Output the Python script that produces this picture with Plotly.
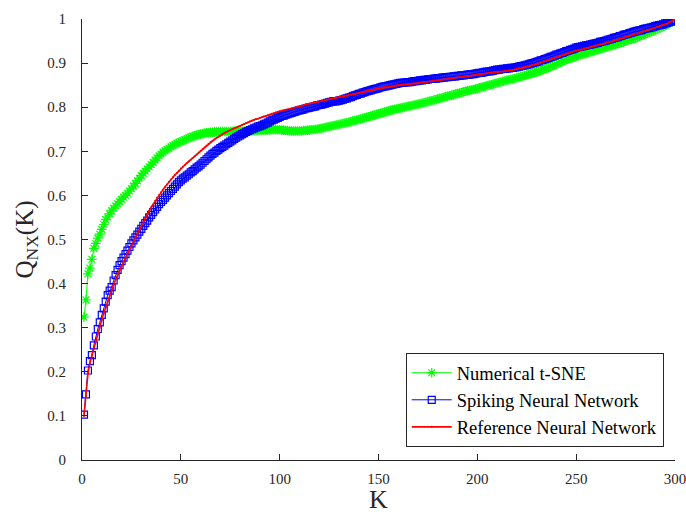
import plotly.graph_objects as go

K = list(range(1, 301))

tsne = [
    0.324, 0.363, 0.422, 0.435, 0.455, 0.480, 0.491, 0.503, 0.512, 0.523,
    0.534, 0.545, 0.551, 0.558, 0.565, 0.571, 0.576, 0.581, 0.586, 0.591,
    0.596, 0.600, 0.605, 0.610, 0.615, 0.621, 0.627, 0.633, 0.639, 0.645,
    0.650, 0.655, 0.660, 0.665, 0.670, 0.675, 0.680, 0.685, 0.690, 0.694,
    0.698, 0.701, 0.704, 0.707, 0.710, 0.713, 0.716, 0.718, 0.720, 0.722,
    0.724, 0.726, 0.728, 0.730, 0.732, 0.734, 0.735, 0.737, 0.738, 0.739,
    0.740, 0.741, 0.742, 0.742, 0.743, 0.743, 0.744, 0.744, 0.745, 0.745,
    0.745, 0.745, 0.745, 0.745, 0.745, 0.745, 0.746, 0.746, 0.746, 0.746,
    0.746, 0.746, 0.746, 0.746, 0.746, 0.746, 0.746, 0.747, 0.747, 0.747,
    0.747, 0.747, 0.748, 0.748, 0.748, 0.749, 0.749, 0.749, 0.749, 0.749,
    0.748, 0.748, 0.747, 0.747, 0.746, 0.746, 0.746, 0.746, 0.746, 0.746,
    0.746, 0.747, 0.747, 0.748, 0.748, 0.749, 0.749, 0.750, 0.750, 0.751,
    0.752, 0.753, 0.754, 0.755, 0.756, 0.757, 0.758, 0.759, 0.760, 0.761,
    0.762, 0.763, 0.764, 0.765, 0.766, 0.767, 0.769, 0.770, 0.771, 0.772,
    0.773, 0.775, 0.776, 0.777, 0.778, 0.780, 0.781, 0.782, 0.784, 0.785,
    0.786, 0.787, 0.789, 0.790, 0.791, 0.793, 0.794, 0.795, 0.796, 0.797,
    0.798, 0.799, 0.800, 0.801, 0.802, 0.803, 0.804, 0.805, 0.806, 0.807,
    0.808, 0.809, 0.810, 0.811, 0.813, 0.814, 0.815, 0.816, 0.817, 0.819,
    0.820, 0.821, 0.822, 0.824, 0.825, 0.826, 0.827, 0.828, 0.830, 0.831,
    0.832, 0.833, 0.835, 0.836, 0.837, 0.838, 0.839, 0.840, 0.841, 0.842,
    0.844, 0.845, 0.846, 0.847, 0.849, 0.850, 0.851, 0.852, 0.854, 0.855,
    0.856, 0.857, 0.859, 0.860, 0.861, 0.862, 0.863, 0.864, 0.865, 0.867,
    0.868, 0.869, 0.870, 0.872, 0.873, 0.874, 0.876, 0.877, 0.878, 0.880,
    0.881, 0.883, 0.885, 0.886, 0.888, 0.890, 0.892, 0.894, 0.896, 0.898,
    0.900, 0.902, 0.904, 0.906, 0.908, 0.909, 0.911, 0.912, 0.914, 0.915,
    0.917, 0.918, 0.920, 0.921, 0.922, 0.924, 0.925, 0.926, 0.928, 0.929,
    0.930, 0.932, 0.933, 0.934, 0.936, 0.937, 0.938, 0.939, 0.941, 0.942,
    0.944, 0.945, 0.947, 0.948, 0.950, 0.951, 0.953, 0.954, 0.955, 0.957,
    0.959, 0.961, 0.963, 0.964, 0.966, 0.968, 0.970, 0.971, 0.973, 0.975,
    0.977, 0.979, 0.981, 0.983, 0.985, 0.987, 0.990, 0.993, 0.996, 0.998,
]

snn = [
    0.103, 0.149, 0.203, 0.224, 0.238, 0.260, 0.280, 0.297, 0.312, 0.329,
    0.344, 0.359, 0.374, 0.384, 0.392, 0.407, 0.419, 0.431, 0.442, 0.451,
    0.459, 0.467, 0.475, 0.483, 0.491, 0.498, 0.505, 0.511, 0.518, 0.524,
    0.531, 0.537, 0.543, 0.550, 0.556, 0.562, 0.568, 0.574, 0.580, 0.585,
    0.590, 0.595, 0.600, 0.605, 0.610, 0.615, 0.620, 0.625, 0.630, 0.634,
    0.638, 0.641, 0.645, 0.648, 0.652, 0.655, 0.659, 0.663, 0.666, 0.670,
    0.674, 0.678, 0.682, 0.686, 0.690, 0.694, 0.697, 0.701, 0.704, 0.707,
    0.710, 0.713, 0.716, 0.719, 0.722, 0.725, 0.728, 0.731, 0.734, 0.736,
    0.739, 0.741, 0.744, 0.746, 0.748, 0.750, 0.752, 0.754, 0.756, 0.757,
    0.759, 0.761, 0.763, 0.765, 0.768, 0.770, 0.772, 0.774, 0.776, 0.778,
    0.780, 0.781, 0.783, 0.784, 0.786, 0.787, 0.789, 0.790, 0.792, 0.793,
    0.794, 0.795, 0.797, 0.798, 0.799, 0.800, 0.801, 0.802, 0.804, 0.805,
    0.806, 0.807, 0.808, 0.810, 0.811, 0.812, 0.813, 0.813, 0.814, 0.815,
    0.816, 0.817, 0.819, 0.820, 0.822, 0.823, 0.825, 0.827, 0.828, 0.830,
    0.831, 0.833, 0.834, 0.836, 0.837, 0.838, 0.840, 0.841, 0.842, 0.843,
    0.845, 0.846, 0.847, 0.848, 0.849, 0.850, 0.851, 0.852, 0.853, 0.854,
    0.855, 0.855, 0.856, 0.856, 0.857, 0.857, 0.858, 0.859, 0.859, 0.860,
    0.861, 0.861, 0.862, 0.862, 0.863, 0.864, 0.864, 0.865, 0.865, 0.866,
    0.866, 0.867, 0.867, 0.868, 0.868, 0.869, 0.869, 0.870, 0.870, 0.871,
    0.871, 0.872, 0.872, 0.873, 0.874, 0.874, 0.875, 0.875, 0.876, 0.877,
    0.878, 0.878, 0.879, 0.880, 0.881, 0.881, 0.882, 0.883, 0.884, 0.885,
    0.885, 0.886, 0.887, 0.887, 0.888, 0.888, 0.889, 0.889, 0.890, 0.891,
    0.892, 0.893, 0.894, 0.895, 0.896, 0.897, 0.899, 0.900, 0.901, 0.903,
    0.904, 0.906, 0.907, 0.909, 0.910, 0.912, 0.914, 0.915, 0.917, 0.919,
    0.920, 0.922, 0.923, 0.925, 0.927, 0.928, 0.930, 0.931, 0.933, 0.935,
    0.936, 0.937, 0.938, 0.939, 0.940, 0.941, 0.942, 0.943, 0.944, 0.945,
    0.946, 0.948, 0.949, 0.950, 0.951, 0.953, 0.954, 0.955, 0.957, 0.958,
    0.959, 0.961, 0.962, 0.964, 0.965, 0.966, 0.968, 0.969, 0.971, 0.972,
    0.973, 0.974, 0.975, 0.977, 0.978, 0.979, 0.980, 0.981, 0.982, 0.984,
    0.985, 0.986, 0.987, 0.988, 0.990, 0.991, 0.993, 0.994, 0.996, 0.998,
]

rnn = [
    0.100, 0.145, 0.195, 0.220, 0.237, 0.255, 0.272, 0.288, 0.303, 0.318,
    0.333, 0.347, 0.360, 0.373, 0.386, 0.398, 0.409, 0.420, 0.430, 0.440,
    0.449, 0.459, 0.468, 0.477, 0.486, 0.496, 0.505, 0.514, 0.522, 0.531,
    0.540, 0.548, 0.557, 0.565, 0.573, 0.580, 0.588, 0.595, 0.601, 0.607,
    0.613, 0.619, 0.625, 0.631, 0.636, 0.641, 0.646, 0.651, 0.656, 0.661,
    0.665, 0.669, 0.673, 0.677, 0.681, 0.685, 0.689, 0.693, 0.697, 0.701,
    0.705, 0.709, 0.713, 0.717, 0.721, 0.724, 0.727, 0.730, 0.733, 0.736,
    0.739, 0.742, 0.744, 0.746, 0.748, 0.750, 0.752, 0.754, 0.756, 0.758,
    0.760, 0.762, 0.764, 0.766, 0.768, 0.770, 0.771, 0.773, 0.774, 0.776,
    0.777, 0.779, 0.780, 0.782, 0.783, 0.785, 0.786, 0.788, 0.789, 0.791,
    0.792, 0.793, 0.794, 0.795, 0.796, 0.797, 0.798, 0.800, 0.801, 0.802,
    0.803, 0.804, 0.806, 0.807, 0.808, 0.809, 0.810, 0.811, 0.812, 0.813,
    0.814, 0.815, 0.816, 0.817, 0.818, 0.819, 0.820, 0.821, 0.822, 0.823,
    0.824, 0.825, 0.826, 0.826, 0.827, 0.828, 0.829, 0.830, 0.831, 0.832,
    0.833, 0.834, 0.835, 0.836, 0.837, 0.838, 0.839, 0.840, 0.841, 0.842,
    0.843, 0.844, 0.845, 0.845, 0.846, 0.847, 0.847, 0.848, 0.849, 0.850,
    0.850, 0.851, 0.851, 0.852, 0.852, 0.853, 0.853, 0.854, 0.854, 0.855,
    0.856, 0.856, 0.857, 0.857, 0.858, 0.858, 0.859, 0.860, 0.860, 0.861,
    0.861, 0.862, 0.863, 0.863, 0.864, 0.865, 0.865, 0.866, 0.867, 0.868,
    0.868, 0.869, 0.869, 0.870, 0.871, 0.871, 0.872, 0.872, 0.873, 0.874,
    0.874, 0.875, 0.876, 0.876, 0.877, 0.878, 0.878, 0.879, 0.879, 0.880,
    0.880, 0.881, 0.881, 0.882, 0.882, 0.883, 0.883, 0.884, 0.885, 0.886,
    0.887, 0.888, 0.889, 0.890, 0.891, 0.892, 0.894, 0.895, 0.896, 0.898,
    0.899, 0.901, 0.902, 0.904, 0.905, 0.907, 0.908, 0.910, 0.911, 0.913,
    0.915, 0.916, 0.918, 0.919, 0.921, 0.922, 0.924, 0.925, 0.927, 0.928,
    0.929, 0.930, 0.931, 0.933, 0.934, 0.935, 0.936, 0.937, 0.938, 0.940,
    0.941, 0.942, 0.943, 0.944, 0.946, 0.947, 0.948, 0.949, 0.951, 0.952,
    0.953, 0.955, 0.956, 0.957, 0.959, 0.960, 0.961, 0.963, 0.964, 0.966,
    0.967, 0.969, 0.970, 0.972, 0.973, 0.975, 0.976, 0.977, 0.979, 0.980,
    0.982, 0.983, 0.985, 0.986, 0.988, 0.990, 0.992, 0.994, 0.996, 0.999,
]

x_ticks = [0, 50, 100, 150, 200, 250, 300]
y_ticks = [0, 0.1, 0.2, 0.3, 0.4, 0.5, 0.6, 0.7, 0.8, 0.9, 1]
y_tick_labels = ["0", "0.1", "0.2", "0.3", "0.4", "0.5", "0.6", "0.7", "0.8", "0.9", "1"]

FONT = "Liberation Serif, Times New Roman, serif"
AX = "#262626"

fig = go.Figure()
fig.add_trace(go.Scatter(
    x=K, y=tsne, mode="lines+markers", name="Numerical t-SNE",
    line=dict(color="#00ff00", width=1),
    marker=dict(symbol="asterisk-open", size=8, color="#00ff00",
                line=dict(color="#00ff00", width=1.2)),
))
fig.add_trace(go.Scatter(
    x=K, y=snn, mode="lines+markers", name="Spiking Neural Network",
    line=dict(color="#0000ff", width=1),
    marker=dict(symbol="square-open", size=7, color="#0000ff",
                line=dict(color="#0000ff", width=1.2)),
))
fig.add_trace(go.Scatter(
    x=K, y=rnn, mode="lines+markers", name="Reference Neural Network",
    line=dict(color="#ff0000", width=1.6),
    marker=dict(symbol="circle", size=2, color="#ff0000"),
))

fig.update_layout(
    width=686, height=514,
    margin=dict(l=82, r=11, t=19, b=54, autoexpand=False),
    paper_bgcolor="white", plot_bgcolor="white",
    font=dict(family=FONT, color=AX, size=15),
    showlegend=True,
    legend=dict(
        x=0.981, y=0.029, xanchor="right", yanchor="bottom",
        bgcolor="white", bordercolor="#262626", borderwidth=1,
        font=dict(family=FONT, size=18.5, color="black"),
        tracegroupgap=0, itemwidth=40,
    ),
    xaxis=dict(
        range=[0, 300], tickvals=x_ticks, ticktext=[str(v) for v in x_ticks],
        showgrid=False, zeroline=False, showline=True, linecolor=AX, linewidth=1,
        ticks="inside", ticklen=6, tickcolor=AX, tickwidth=1, automargin=True,
        tickfont=dict(family=FONT, size=15, color=AX),
        ticklabelstandoff=5, ticklabeloverflow="allow",
        title=dict(text="K", font=dict(family=FONT, size=26, color=AX), standoff=4),
    ),
    yaxis=dict(
        range=[0, 1], tickvals=y_ticks, ticktext=y_tick_labels,
        showgrid=False, zeroline=False, showline=True, linecolor=AX, linewidth=1,
        ticks="inside", ticklen=6, tickcolor=AX, tickwidth=1, automargin=False,
        tickfont=dict(family=FONT, size=15, color=AX),
        ticklabelstandoff=12,
        title=dict(text="Q<sub>NX</sub>(K)", font=dict(family=FONT, size=25, color=AX), standoff=6),
    ),
)

fig.write_html(
    "out.html",
    config={"displayModeBar": False},
    post_script="document.body.style.margin='0';document.body.style.overflow='hidden';",
)
